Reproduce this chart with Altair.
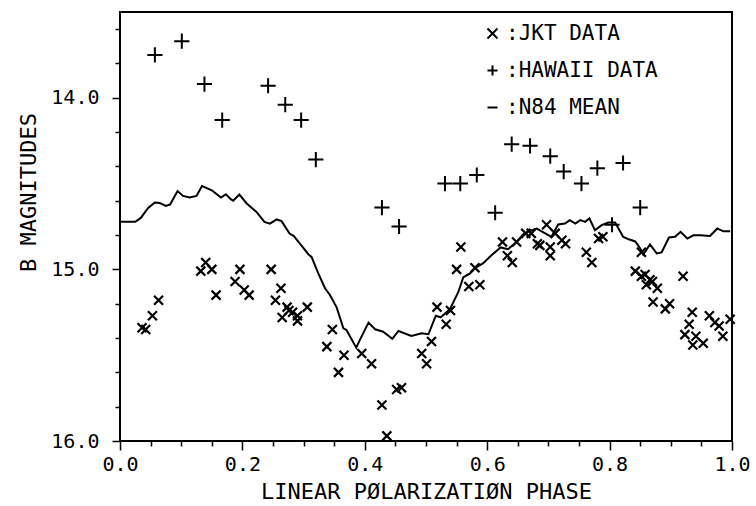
import altair as alt
import pandas as pd

# ---- data ----
jkt_phase = [0.036, 0.042, 0.053, 0.063, 0.132, 0.140, 0.150, 0.157, 0.188, 0.196,
             0.203, 0.211, 0.247, 0.254, 0.263, 0.265, 0.273, 0.276, 0.282, 0.290,
             0.290, 0.306, 0.338, 0.347, 0.357, 0.366, 0.395, 0.411, 0.428, 0.436,
             0.452, 0.460, 0.493, 0.501, 0.509, 0.518, 0.533, 0.540, 0.550, 0.557,
             0.570, 0.580, 0.588, 0.625, 0.633, 0.641, 0.648, 0.663, 0.672, 0.682,
             0.686, 0.697, 0.703, 0.703, 0.711, 0.722, 0.728, 0.762, 0.771, 0.782,
             0.789, 0.842, 0.852, 0.852, 0.858, 0.860, 0.866, 0.870, 0.878, 0.871,
             0.891, 0.898, 0.920, 0.923, 0.930, 0.935, 0.936, 0.941, 0.953, 0.963,
             0.972, 0.979, 0.985, 0.997]
jkt_mag = [15.34, 15.35, 15.27, 15.18, 15.01, 14.96, 15.00, 15.15, 15.07, 15.00,
           15.12, 15.15, 15.00, 15.18, 15.11, 15.28, 15.22, 15.24, 15.25, 15.27,
           15.30, 15.22, 15.45, 15.35, 15.60, 15.50, 15.49, 15.55, 15.79, 15.97,
           15.70, 15.69, 15.49, 15.55, 15.42, 15.22, 15.32, 15.24, 15.00, 14.87,
           15.10, 14.99, 15.09, 14.84, 14.92, 14.96, 14.84, 14.79, 14.79, 14.85,
           14.86, 14.74, 14.87, 14.92, 14.79, 14.83, 14.85, 14.90, 14.96, 14.82,
           14.81, 15.01, 14.90, 15.04, 15.03, 15.09, 15.06, 15.07, 15.11, 15.19,
           15.23, 15.20, 15.04, 15.38, 15.32, 15.25, 15.44, 15.39, 15.43, 15.27,
           15.31, 15.33, 15.39, 15.29]

hawaii_phase = [0.057, 0.101, 0.138, 0.167, 0.242, 0.270, 0.296, 0.320, 0.428, 0.456,
                0.531, 0.556, 0.583, 0.613, 0.640, 0.670, 0.703, 0.725, 0.754, 0.780,
                0.804, 0.822, 0.850]
hawaii_mag = [13.75, 13.67, 13.92, 14.13, 13.93, 14.04, 14.13, 14.36, 14.64, 14.75,
              14.50, 14.50, 14.45, 14.67, 14.27, 14.28, 14.34, 14.43, 14.50, 14.41,
              14.74, 14.38, 14.64]

mean_phase = [0.000, 0.025, 0.034, 0.046, 0.057, 0.065, 0.075, 0.082, 0.094, 0.103,
              0.114, 0.125, 0.134, 0.150, 0.165, 0.173, 0.181, 0.185, 0.195, 0.207,
              0.223, 0.236, 0.245, 0.256, 0.264, 0.277, 0.284, 0.296, 0.308, 0.313,
              0.324, 0.335, 0.343, 0.354, 0.365, 0.370, 0.386, 0.392, 0.406, 0.417,
              0.430, 0.445, 0.455, 0.476, 0.493, 0.504, 0.516, 0.524, 0.539, 0.553,
              0.561, 0.572, 0.582, 0.593, 0.607, 0.622, 0.634, 0.647, 0.659, 0.670,
              0.681, 0.705, 0.716, 0.727, 0.735, 0.744, 0.752, 0.760, 0.767, 0.776,
              0.787, 0.798, 0.809, 0.822, 0.830, 0.842, 0.850, 0.855, 0.866, 0.877,
              0.885, 0.897, 0.907, 0.916, 0.927, 0.937, 0.948, 0.964, 0.976, 0.986,
              0.997]
mean_mag = [14.723, 14.723, 14.700, 14.642, 14.610, 14.613, 14.630, 14.622, 14.543, 14.572,
            14.581, 14.572, 14.514, 14.539, 14.581, 14.562, 14.591, 14.600, 14.564, 14.616,
            14.665, 14.723, 14.733, 14.709, 14.719, 14.791, 14.806, 14.859, 14.913, 14.927,
            15.023, 15.110, 15.149, 15.221, 15.343, 15.353, 15.456, 15.411, 15.310, 15.349,
            15.363, 15.405, 15.359, 15.388, 15.372, 15.378, 15.270, 15.279, 15.233, 15.130,
            15.046, 15.023, 14.988, 14.965, 14.917, 14.872, 14.882, 14.843, 14.795, 14.775,
            14.762, 14.810, 14.738, 14.733, 14.713, 14.733, 14.713, 14.723, 14.703, 14.772,
            14.742, 14.727, 14.727, 14.810, 14.823, 14.837, 14.878, 14.913, 14.855, 14.907,
            14.901, 14.814, 14.810, 14.781, 14.820, 14.801, 14.801, 14.805, 14.762, 14.778,
            14.778]

series_names = [":JKT DATA", ":HAWAII DATA", ":N84 MEAN"]
x_tick_values = [round(i * 0.05, 2) for i in range(21)]
y_tick_values = [round(13.6 + i * 0.2, 1) for i in range(13)]

X_PATH = "M-1,-1L1,1M-1,1L1,-1"
PLUS_PATH = "M-1,0L1,0M0,-1L0,1"

jkt_df = pd.DataFrame({"phase": jkt_phase, "mag": jkt_mag, "series": series_names[0]})
haw_df = pd.DataFrame({"phase": hawaii_phase, "mag": hawaii_mag, "series": series_names[1]})
mean_df = pd.DataFrame({"phase": mean_phase, "mag": mean_mag, "series": series_names[2]})

FONT = "DejaVu Sans Mono"

x_major = "abs(datum.value*5 - round(datum.value*5)) < 0.001"
y_major = "abs(datum.value - round(datum.value)) < 0.001"

xscale = alt.Scale(domain=[0, 1], nice=False, zero=False)
yscale = alt.Scale(domain=[13.5, 16.0], reverse=True, nice=False, zero=False)

xaxis = alt.Axis(
    values=x_tick_values,
    labelExpr=f"{x_major} ? format(datum.value, '.1f') : ''",
    tickSize={"condition": {"test": x_major, "value": 9}, "value": 5},
    tickColor="black", tickWidth=1.5, domain=False, grid=False,
    labelFont=FONT, labelFontSize=20, labelColor="black", labelPadding=4,
    labelOverlap=False, labelFlush=False, labelBound=False,
    title="LINEAR PØLARIZATIØN PHASE", titleFont=FONT, titleFontSize=22,
    titleFontWeight="normal", titleColor="black",
    titleY=57, titleBaseline="alphabetic",
)
yaxis = alt.Axis(
    values=y_tick_values,
    labelExpr=f"{y_major} ? format(datum.value, '.1f') : ''",
    tickSize={"condition": {"test": y_major, "value": 8}, "value": 5},
    tickColor="black", tickWidth=1.5, domain=False, grid=False,
    labelFont=FONT, labelFontSize=20, labelColor="black", labelPadding=13,
    labelOverlap=False, labelFlush=False, labelBound=False,
    title="B MAGNITUDES", titleFont=FONT, titleFontSize=22,
    titleFontWeight="normal", titleColor="black",
    titleAngle=270, titleX=-92, titleY=180, titleBaseline="middle", titleAlign="center",
)

x_enc = alt.X("phase:Q", scale=xscale, axis=xaxis)
y_enc = alt.Y("mag:Q", scale=yscale, axis=yaxis)
shape_scale = alt.Scale(domain=series_names, range=[X_PATH, PLUS_PATH, "stroke"])
legend = alt.Legend(
    title=None, orient="none", legendX=362, legendY=11,
    labelFont=FONT, labelFontSize=21, labelColor="black", labelOffset=3,
    symbolSize=100, symbolStrokeWidth=2, symbolStrokeColor="black",
    symbolFillColor="transparent", rowPadding=15, padding=0,
    labelLimit=300,
)

line = alt.Chart(mean_df).mark_line(color="black", strokeWidth=2).encode(
    x=x_enc, y=y_enc,
)
jkt = alt.Chart(jkt_df).mark_point(
    filled=False, color="black", strokeWidth=2.2, opacity=1, size=81
).encode(
    x=x_enc, y=y_enc,
    shape=alt.Shape("series:N", scale=shape_scale, legend=legend),
)
haw = alt.Chart(haw_df).mark_point(
    filled=False, color="black", strokeWidth=2, opacity=1, size=230
).encode(
    x=x_enc, y=y_enc,
    shape=alt.Shape("series:N", scale=shape_scale, legend=legend),
)

chart = alt.layer(line, jkt, haw).properties(
    width=612, height=429,
    autosize=alt.AutoSizeParams(type="none"),
    padding={"left": 120, "top": 12, "right": 24, "bottom": 65},
    background="white",
).configure_view(stroke="black", strokeWidth=2)

chart.save("out.html", embed_options={"renderer": "svg", "actions": False})
